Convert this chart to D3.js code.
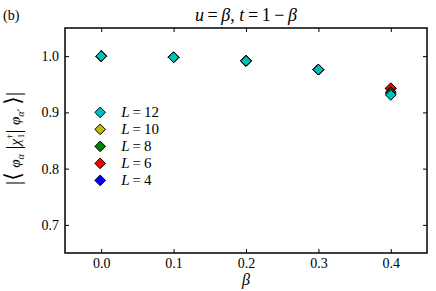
<!DOCTYPE html>
<html>
<head>
<meta charset="utf-8">
<script src="https://cdn.jsdelivr.net/npm/d3@7"></script>
<style>
  body { margin: 0; background: #fff; }
</style>
</head>
<body>
<div id="chart"></div>
<script>
// beta values along x
var betas = [0.0, 0.1, 0.2, 0.3, 0.4];
// overlap per system size (drawn L=4 first, L=12 last)
var seriesL = [4, 6, 8, 10, 12];
var seriesColor = ["#0000ff", "#ff0000", "#007f00", "#bfbf00", "#00bfbf"];
var values = {
  4:  [1.0, 0.998, 0.9915, 0.976, 0.942],
  6:  [1.0, 0.998, 0.9915, 0.976, 0.943],
  8:  [1.0, 0.998, 0.9915, 0.976, 0.936],
  10: [1.0, 0.998, 0.9915, 0.976, 0.933],
  12: [1.0, 0.998, 0.9915, 0.976, 0.931]
};
var xTicks = [0.0, 0.1, 0.2, 0.3, 0.4];
var yTicks = [0.7, 0.8, 0.9, 1.0];

var W = 436, H = 291;
var margin = {top: 28, right: 9, bottom: 38, left: 65};
var width = W - margin.left - margin.right;
var height = H - margin.top - margin.bottom;
var serif = "'Times New Roman', 'Liberation Serif', 'DejaVu Serif', serif";

var svg = d3.select("#chart").append("svg")
    .attr("width", W)
    .attr("height", H)
    .attr("font-family", serif);

var g = svg.append("g")
    .attr("transform", "translate(" + margin.left + "," + margin.top + ")");

var x = d3.scaleLinear().domain([-0.05, 0.45]).range([0, width]);
var y = d3.scaleLinear().domain([0.65, 1.05]).range([height, 0]);

// axes with inward ticks on all four sides
function styleAxis(sel) {
  sel.attr("font-family", serif).attr("font-size", 14);
  sel.select(".domain").remove();
  sel.selectAll(".tick line").attr("stroke", "#000").attr("stroke-width", 1);
  sel.selectAll(".tick text").attr("fill", "#000");
}

g.append("g")
    .attr("transform", "translate(0," + height + ")")
    .call(d3.axisBottom(x).tickValues(xTicks).tickFormat(d3.format(".1f")).tickSizeInner(-4).tickSizeOuter(0).tickPadding(5))
    .call(styleAxis);
g.append("g")
    .call(d3.axisTop(x).tickValues(xTicks).tickFormat("").tickSizeInner(-4).tickSizeOuter(0))
    .call(styleAxis);
g.append("g")
    .call(d3.axisLeft(y).tickValues(yTicks).tickFormat(d3.format(".1f")).tickSizeInner(-4).tickSizeOuter(0).tickPadding(6))
    .call(styleAxis);
g.append("g")
    .attr("transform", "translate(" + width + ",0)")
    .call(d3.axisRight(y).tickValues(yTicks).tickFormat("").tickSizeInner(-4).tickSizeOuter(0))
    .call(styleAxis);

g.append("rect")
    .attr("width", width).attr("height", height)
    .attr("fill", "none").attr("stroke", "#000").attr("stroke-width", 1.5);

// diamond markers
var diamond = d3.symbol().type(d3.symbolDiamond2).size(72);

seriesL.forEach(function(L, i) {
  g.selectAll(".pt" + L)
    .data(betas.map(function(b, j) { return [b, values[L][j]]; }))
    .enter().append("path")
      .attr("d", diamond)
      .attr("transform", function(d) { return "translate(" + x(d[0]) + "," + y(d[1]) + ")"; })
      .attr("fill", seriesColor[i])
      .attr("stroke", "#000")
      .attr("stroke-width", 1);
});

// legend (L=12 at top)
var legend = g.append("g").attr("transform", "translate(" + (x(0) - 1) + "," + (y(0.9)) + ")");
seriesL.slice().reverse().forEach(function(L, k) {
  var i = seriesL.indexOf(L);
  var row = legend.append("g").attr("transform", "translate(0," + (k * 17) + ")");
  row.append("path").attr("d", diamond)
    .attr("fill", seriesColor[i]).attr("stroke", "#000").attr("stroke-width", 1);
  var t = row.append("text").attr("x", 21).attr("y", 5).attr("font-size", 15);
  t.append("tspan").attr("font-style", "italic").text("L");
  t.append("tspan").text("\u2009=\u2009" + L);
});

// title
var title = svg.append("text")
    .attr("x", margin.left + width / 2).attr("y", 21)
    .attr("text-anchor", "middle").attr("font-size", 18);
title.append("tspan").attr("font-style", "italic").text("u");
title.append("tspan").text("\u2009=\u2009");
title.append("tspan").attr("font-style", "italic").text("β");
title.append("tspan").text(", ");
title.append("tspan").attr("font-style", "italic").text("t");
title.append("tspan").text("\u2009=\u20091\u2009−\u2009");
title.append("tspan").attr("font-style", "italic").text("β");

svg.append("text").attr("x", 3).attr("y", 20).attr("font-size", 14).text("(b)");

// x label
svg.append("text")
    .attr("x", margin.left + width / 2).attr("y", 285)
    .attr("text-anchor", "middle").attr("font-size", 16)
    .attr("font-style", "italic").text("β");

// y label
var yl = svg.append("text")
    .attr("transform", "translate(20," + (margin.top + height / 2 - 2) + ") rotate(-90)")
    .attr("text-anchor", "middle").attr("font-size", 15);
yl.append("tspan").attr("font-size", 22).text("|⟨\u2009");
yl.append("tspan").attr("font-style", "italic").text("φ");
yl.append("tspan").attr("font-style", "italic").attr("font-size", 10).attr("dy", 4).text("α");
yl.append("tspan").attr("font-size", 22).attr("dy", -4).text("\u2009|");
yl.append("tspan").attr("font-style", "italic").text("χ");
yl.append("tspan").attr("font-size", 9).attr("dy", -7).text("†");
yl.append("tspan").attr("font-size", 9).attr("dx", -4).attr("dy", 11).text("1");
yl.append("tspan").attr("font-size", 22).attr("dy", -4).text("|\u2009");
yl.append("tspan").attr("font-style", "italic").text("φ");
yl.append("tspan").attr("font-style", "italic").attr("font-size", 10).attr("dy", 4).text("α′");
yl.append("tspan").attr("font-size", 22).attr("dy", -4).text("\u2009⟩|");
</script>
</body>
</html>
